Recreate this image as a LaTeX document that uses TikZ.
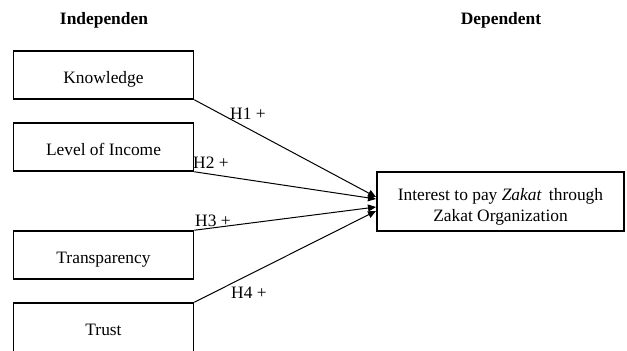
\documentclass[tikz,border=0pt]{standalone}
\usepackage{fontspec}
\setmainfont{Liberation Serif}
\usetikzlibrary{arrows.meta}
\begin{document}
\begin{tikzpicture}[x=1pt,y=-1pt,
  every node/.style={font=\fontsize{17.4}{21}\selectfont},
  varbox/.style={draw,line width=1.5pt,minimum width=180pt,minimum height=48pt,inner sep=0pt},
  boxtext/.style={anchor=base,inner sep=0pt,align=center},
  hyparrow/.style={line width=1pt,-{Triangle[length=8pt,width=7pt]}},
  hyplabel/.style={anchor=base west,inner sep=0pt},
  header/.style={anchor=base,inner sep=0pt,font=\fontsize{17.4}{21}\selectfont\bfseries}]
\useasboundingbox (0,0) rectangle (627,351);
\node[header] (hind) at (104,24) {Independen};
\node[header] (hdep) at (501,24) {Dependent};
\node[varbox] (know) at (103.5,75) {};
\node[varbox] (inc) at (103.5,147) {};
\node[varbox] (trans) at (103.5,255) {};
\node[varbox,minimum height=54pt] (trust) at (103.5,330) {};
\node[draw,line width=1.5pt,minimum width=247pt,minimum height=59pt,inner sep=0pt] (dep) at (500.5,201.5) {};
\node[boxtext] (knowt) at (103.5,83.3) {Knowledge};
\node[boxtext] (inct) at (103.5,155) {Level of Income};
\node[boxtext] (transt) at (103.5,263.3) {Transparency};
\node[boxtext] (trustt) at (103.5,335) {Trust};
\node[boxtext] (dept1) at (500.5,200.3) {Interest to pay \textit{Zakat}\, through};
\node[boxtext] (dept2) at (500.5,221.3) {Zakat Organization};
\coordinate (e1) at (376,197);
\coordinate (e2) at (376,199);
\coordinate (e3) at (376,207);
\coordinate (e4) at (376,211);
\draw[hyparrow] (know.south east) -- (e1);
\draw[hyparrow] (inc.south east) -- (e2);
\draw[hyparrow] (trans.north east) -- (e3);
\draw[hyparrow] (trust.north east) -- (e4);
\node[hyplabel] (h1) at (230,119) {H1 +};
\node[hyplabel] (h2) at (193,168) {H2 +};
\node[hyplabel] (h3) at (195,226) {H3 +};
\node[hyplabel] (h4) at (231,298.3) {H4 +};
\end{tikzpicture}
\end{document}
